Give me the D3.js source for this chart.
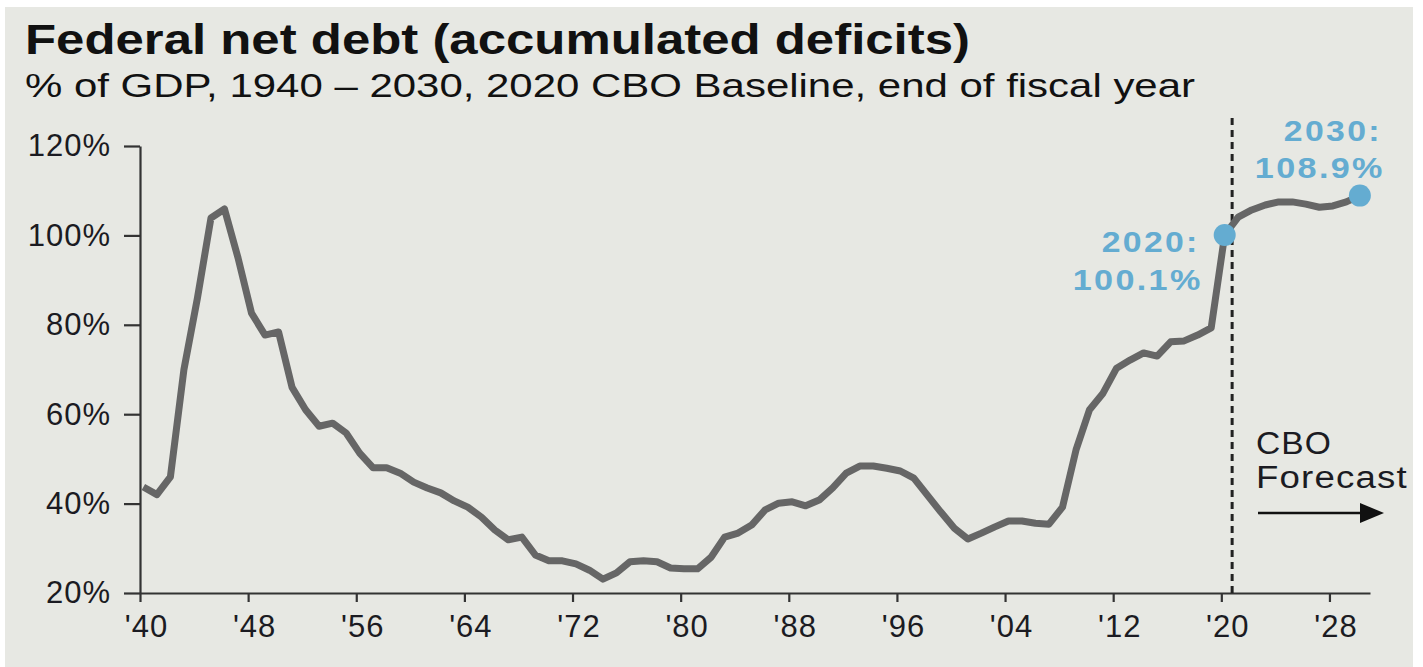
<!DOCTYPE html>
<html>
<head>
    <meta charset="utf-8">
    <title>Federal net debt</title>
    <script src="https://d3js.org/d3.v7.min.js"></script>
    <style>
        body { margin: 0; background: #ffffff; }
        text { font-family: "Liberation Sans", Arial, sans-serif; }
    </style>
</head>
<body>
    <div id="chart"></div>

    <script>
        // fiscal years and debt held by public, % of GDP
        var years = [
            1940, 1941, 1942, 1943, 1944, 1945, 1946, 1947, 1948, 1949,
            1950, 1951, 1952, 1953, 1954, 1955, 1956, 1957, 1958, 1959,
            1960, 1961, 1962, 1963, 1964, 1965, 1966, 1967, 1968, 1969,
            1970, 1971, 1972, 1973, 1974, 1975, 1976, 1977, 1978, 1979,
            1980, 1981, 1982, 1983, 1984, 1985, 1986, 1987, 1988, 1989,
            1990, 1991, 1992, 1993, 1994, 1995, 1996, 1997, 1998, 1999,
            2000, 2001, 2002, 2003, 2004, 2005, 2006, 2007, 2008, 2009,
            2010, 2011, 2012, 2013, 2014, 2015, 2016, 2017, 2018, 2019,
            2020, 2021, 2022, 2023, 2024, 2025, 2026, 2027, 2028, 2029, 2030
        ];
        var debt = [
            43.7, 42.0, 46.0, 70.0, 86.0, 103.9, 105.9, 95.0, 82.6, 77.7,
            78.4, 66.0, 61.0, 57.3, 58.0, 55.8, 51.3, 48.0, 48.0, 46.8,
            44.8, 43.5, 42.4, 40.6, 39.2, 37.0, 34.1, 31.9, 32.5, 28.5,
            27.2, 27.2, 26.5, 25.1, 23.1, 24.5, 27.0, 27.2, 27.0, 25.6,
            25.4, 25.4, 28.0, 32.5, 33.4, 35.2, 38.6, 40.1, 40.4, 39.5,
            40.8, 43.5, 46.8, 48.4, 48.4, 47.9, 47.3, 45.7, 41.9, 38.1,
            34.5, 32.1, 33.4, 34.8, 36.1, 36.1, 35.6, 35.4, 39.2, 52.0,
            61.0, 64.7, 70.3, 72.1, 73.7, 73.0, 76.2, 76.4, 77.7, 79.3,
            100.1, 104.1, 105.7, 106.8, 107.5, 107.5, 107.0, 106.3, 106.6, 107.5, 108.9
        ];
        var xTicks = [1940, 1948, 1956, 1964, 1972, 1980, 1988, 1996, 2004, 2012, 2020, 2028];
        var yTicks = [20, 40, 60, 80, 100, 120];
        var highlights = [
            { year: 2020, value: 100.1, label: "2020:", sub: "100.1%" },
            { year: 2030, value: 108.9, label: "2030:", sub: "108.9%" }
        ];
        var forecastStart = 2020.8;

        var data = years.map(function(d, i) { return { year: d, value: debt[i] }; });

        var W = 1423, H = 667;
        var blue = "#64acd1", ink = "#1b1b22";

        var svg = d3.select("#chart")
          .append("svg")
            .attr("width", W)
            .attr("height", H);

        svg.append("rect")
            .attr("x", 5).attr("y", 7)
            .attr("width", 1408).attr("height", H - 7)
            .attr("fill", "#e7e8e3");

        // titles
        svg.append("text")
            .attr("x", 25).attr("y", 54)
            .attr("textLength", 945)
            .attr("lengthAdjust", "spacingAndGlyphs")
            .style("font-size", "42px")
            .style("font-weight", "bold")
            .attr("fill", "#111")
            .text("Federal net debt (accumulated deficits)");

        svg.append("text")
            .attr("x", 25).attr("y", 97)
            .attr("textLength", 1170)
            .attr("lengthAdjust", "spacingAndGlyphs")
            .style("font-size", "34px")
            .attr("fill", "#111")
            .text("% of GDP, 1940 \u2013 2030, 2020 CBO Baseline, end of fiscal year");

        var x = d3.scaleLinear().domain([1940, 2031]).range([140, 1370]);
        var y = d3.scaleLinear().domain([20, 120]).range([593, 146]);
        // points sit a little right of the year ticks in the source
        var px = function(yr) { return x(yr + 0.25); };

        // y axis
        var yAxis = svg.append("g")
            .attr("transform", "translate(" + x(1940) + ",0)")
            .call(d3.axisLeft(y).tickValues(yTicks).tickSize(16).tickSizeOuter(0).tickPadding(13)
                .tickFormat(function(d) { return d + "%"; }));

        // x axis
        var xAxis = svg.append("g")
            .attr("transform", "translate(0," + y(20) + ")")
            .call(d3.axisBottom(x).tickValues(xTicks).tickSize(9).tickSizeOuter(0).tickPadding(13)
                .tickFormat(function(d) { return "'" + String(d).slice(2); }));

        [yAxis, xAxis].forEach(function(g) {
            g.select(".domain").attr("stroke", "#333").attr("stroke-width", 2.2);
            g.selectAll(".tick line").attr("stroke", "#333").attr("stroke-width", 2.2);
            g.selectAll(".tick text")
                .attr("fill", ink)
                .style("font-size", "31px")
                .style("letter-spacing", "1px")
                .style("font-family", "\"Liberation Sans\", Arial, sans-serif");
        });
        xAxis.selectAll(".tick text").attr("dx", 6);

        // forecast divider
        svg.append("line")
            .attr("x1", x(forecastStart)).attr("x2", x(forecastStart))
            .attr("y1", 118).attr("y2", y(20))
            .attr("stroke", "#222")
            .attr("stroke-width", 3)
            .style("stroke-dasharray", "7, 5");

        var line = d3.line()
            .x(function(d) { return px(d.year); })
            .y(function(d) { return y(d.value); });

        svg.append("path")
            .datum(data)
            .attr("d", line)
            .attr("fill", "none")
            .attr("stroke", "#666666")
            .attr("stroke-width", 7)
            .attr("stroke-linejoin", "round");

        svg.selectAll(".dot")
            .data(highlights)
          .enter().append("circle")
            .attr("class", "dot")
            .attr("cx", function(d) { return px(d.year); })
            .attr("cy", function(d) { return y(d.value); })
            .attr("r", 11)
            .attr("fill", blue);

        // callouts
        var h0 = highlights[0], h1 = highlights[1];
        var lab = function(t, xx, yy, len) {
            svg.append("text")
                .attr("x", xx).attr("y", yy)
                .attr("text-anchor", "end")
                .attr("textLength", len)
                .attr("lengthAdjust", "spacingAndGlyphs")
                .attr("fill", blue)
                .style("font-size", "29px")
                .style("font-weight", "bold")
                .style("letter-spacing", "2px")
                .text(t);
        };
        lab(h0.label, px(h0.year) - 25, y(h0.value) + 17, 98);
        lab(h0.sub, px(h0.year) - 22, y(h0.value) + 55, 130);
        lab(h1.label, px(h1.year) + 22, y(h1.value) - 55, 98);
        lab(h1.sub, px(h1.year) + 25, y(h1.value) - 18, 130);

        svg.append("text")
            .attr("x", 1256).attr("y", 454)
            .attr("textLength", 76)
            .attr("lengthAdjust", "spacingAndGlyphs")
            .attr("fill", ink)
            .style("font-size", "31px")
            .style("letter-spacing", "1px")
            .text("CBO");
        svg.append("text")
            .attr("x", 1256).attr("y", 488)
            .attr("textLength", 152)
            .attr("lengthAdjust", "spacingAndGlyphs")
            .attr("fill", ink)
            .style("font-size", "31px")
            .style("letter-spacing", "1px")
            .text("Forecast");

        svg.append("line")
            .attr("x1", 1258).attr("x2", 1362)
            .attr("y1", 513).attr("y2", 513)
            .attr("stroke", "#111")
            .attr("stroke-width", 2.5);
        svg.append("path")
            .attr("d", "M1360,503 L1384,513 L1360,523 Z")
            .attr("fill", "#111");
    </script>
</body>
</html>
